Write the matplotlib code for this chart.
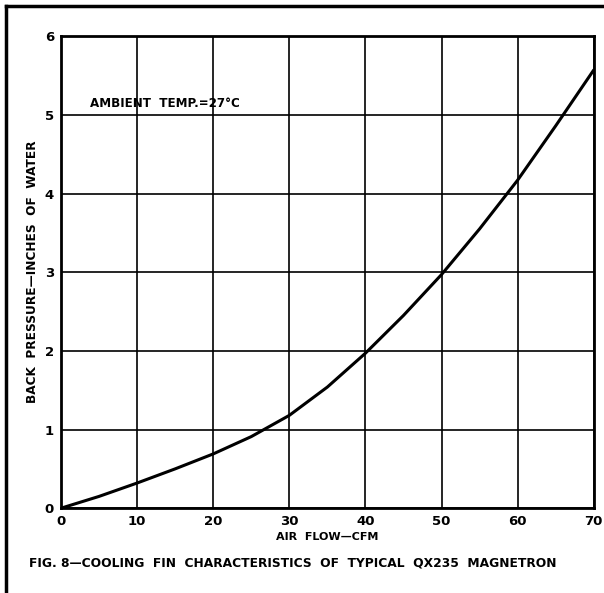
import numpy as np
import matplotlib.pyplot as plt
from matplotlib.lines import Line2D

# curve
air_flow = [0, 5, 10, 15, 20, 25, 30, 35, 40, 45, 50, 55, 60, 65, 70]
back_pressure = [0, 0.15, 0.32, 0.50, 0.69, 0.91, 1.18, 1.54, 1.97, 2.45, 2.97, 3.55, 4.17, 4.86, 5.57]

x_ticks = [0, 10, 20, 30, 40, 50, 60, 70]
y_ticks = [0, 1, 2, 3, 4, 5, 6]

fig = plt.figure(figsize=(6.04, 5.93), dpi=100)
ax = fig.add_axes([0.101, 0.143, 0.882, 0.796])

ax.plot(air_flow, back_pressure, color="black", lw=2.2, solid_capstyle="round", solid_joinstyle="round")

ax.set_xlim(0, 70)
ax.set_ylim(0, 6)
ax.set_xticks(x_ticks)
ax.set_yticks(y_ticks)
ax.tick_params(length=0, labelsize=9.5, pad=5)
for lab in ax.get_xticklabels() + ax.get_yticklabels():
    lab.set_fontweight("bold")
ax.grid(True, color="black", lw=1.2)
for sp in ax.spines.values():
    sp.set_linewidth(2)

ax.text(3.8, 5.1, "AMBIENT  TEMP.=27°C", fontsize=8.6, fontweight="bold")

ax.set_xlabel("AIR  FLOW—CFM", fontsize=8, fontweight="bold", labelpad=3)
ax.set_ylabel("BACK  PRESSURE—INCHES  OF  WATER", fontsize=8.7, fontweight="bold", labelpad=4)

fig.text(0.048, 0.05, "FIG. 8—COOLING  FIN  CHARACTERISTICS  OF  TYPICAL  QX235  MAGNETRON",
         fontsize=8.8, fontweight="bold", va="center")

# page frame
fig.add_artist(Line2D([0.01, 1.0], [0.99, 0.99], color="black", lw=2.5, transform=fig.transFigure))
fig.add_artist(Line2D([0.01, 0.01], [0.0, 0.99], color="black", lw=2.5, transform=fig.transFigure))

fig.savefig("out.png", dpi=100)
